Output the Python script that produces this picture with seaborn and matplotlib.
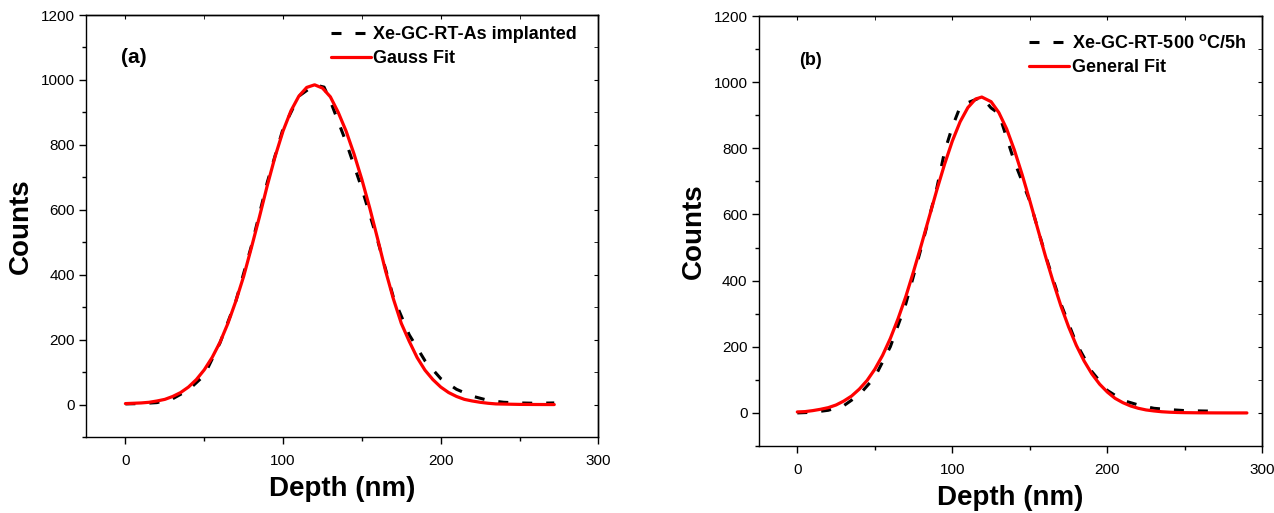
import numpy as np
import pandas as pd
import seaborn as sns
import matplotlib
matplotlib.use('Agg')
import matplotlib.pyplot as plt
from matplotlib.ticker import MultipleLocator

# --- data ---
# panel (a): measured profile (dashed) and gauss fit (solid)
depth_a_meas = [0, 10, 20, 30, 40, 50, 60, 70, 80, 90, 100, 110, 120, 126, 130,
                140, 150, 160, 170, 180, 190, 200, 210, 220, 230, 240, 250, 260, 272]
counts_a_meas = [2, 3, 6, 18, 45, 90, 190, 318, 490, 685, 850, 950, 985, 978, 935,
                 808, 665, 505, 330, 215, 135, 80, 47, 26, 13, 7, 5, 4, 5]

depth_a_fit = [0, 5, 10, 15, 20, 25, 30, 35, 40, 45, 50, 55, 60, 65, 70, 75, 80,
               85, 90, 95, 100, 105, 110, 115, 120, 125, 130, 135, 140, 145, 150,
               155, 160, 165, 170, 175, 180, 185, 190, 195, 200, 205, 210, 215,
               220, 225, 230, 235, 240, 245, 250, 260, 272]
counts_a_fit = [3, 4, 5, 7, 11, 16, 25, 37, 54, 77, 107, 145, 192, 250, 318, 395,
                485, 578, 675, 765, 843, 905, 950, 977, 985, 975, 948, 900, 842,
                772, 693, 605, 510, 412, 325, 250, 195, 145, 106, 77, 54, 37, 25,
                16, 11, 7, 4, 2, 1.5, 1, 0.5, 0.2, 0]

# panel (b): measured profile (dashed) and general fit (solid)
depth_b_meas = [0, 10, 20, 30, 40, 50, 60, 70, 80, 90, 95, 100, 105, 110, 119,
                125, 130, 140, 150, 160, 170, 180, 190, 200, 210, 220, 230, 240,
                250, 260, 272]
counts_b_meas = [0, 2, 8, 22, 55, 108, 200, 330, 500, 680, 790, 865, 925, 938,
                 955, 922, 905, 760, 640, 478, 330, 210, 125, 68, 38, 24, 14, 10,
                 7, 6, 5]

depth_b_fit = [0, 5, 10, 15, 20, 25, 30, 35, 40, 45, 50, 55, 60, 65, 70, 75, 80,
               85, 90, 95, 100, 105, 110, 115, 119, 125, 130, 135, 140, 145, 150,
               155, 160, 165, 170, 175, 180, 185, 190, 195, 200, 205, 210, 215,
               220, 225, 230, 235, 240, 245, 250, 260, 270, 280, 290]
counts_b_fit = [3, 4, 7, 11, 16, 24, 36, 51, 72, 98, 132, 174, 225, 285, 352,
                428, 508, 591, 674, 752, 822, 880, 923, 949, 955, 941, 908, 859,
                795, 721, 641, 558, 475, 397, 324, 260, 204, 157, 118, 87, 63, 44,
                31, 21, 14, 9, 6, 3.6, 2.2, 1.3, 0.8, 0.3, 0.1, 0, 0]

labels_a = ['Xe-GC-RT-As implanted', 'Gauss Fit']
labels_b = [r'Xe-GC-RT-500 $^{\mathbf{o}}$C/5h', 'General Fit']

sns.set_style('ticks')
plt.rcParams['font.family'] = ['Liberation Sans', 'DejaVu Sans']
plt.rcParams['mathtext.fontset'] = 'custom'
plt.rcParams['mathtext.rm'] = 'Liberation Sans'
plt.rcParams['mathtext.bf'] = 'Liberation Sans:bold'
plt.rcParams['text.color'] = 'black'
plt.rcParams['axes.labelcolor'] = 'black'
plt.rcParams['xtick.color'] = 'black'
plt.rcParams['ytick.color'] = 'black'
plt.rcParams['axes.edgecolor'] = 'black'
plt.rcParams['axes.linewidth'] = 1.0

fig = plt.figure(figsize=(12.74, 5.13), dpi=100)
ax_a = fig.add_axes([0.0675, 0.1481, 0.4022, 0.8226])
ax_b = fig.add_axes([0.5954, 0.1306, 0.3955, 0.8382])

dash = (0, (3.27, 4.58))


def draw_panel(ax, dm, cm, df, cf, labels, tag, tag_xy, tag_size, leg_anchor):
    sns.lineplot(x=dm, y=cm, ax=ax, color='black', linewidth=2.2,
                 linestyle=dash, label=labels[0], sort=False, zorder=2)
    sns.lineplot(x=df, y=cf, ax=ax, color='#ff0000', linewidth=2.3,
                 label=labels[1], sort=False, zorder=3)
    ax.set_xlim(-25, 300)
    ax.set_ylim(-100, 1200)
    ax.xaxis.set_major_locator(MultipleLocator(100))
    ax.xaxis.set_minor_locator(MultipleLocator(50))
    ax.yaxis.set_major_locator(MultipleLocator(200))
    ax.yaxis.set_minor_locator(MultipleLocator(100))
    ax.tick_params(which='major', direction='out', length=5, width=1,
                   labelsize=11, colors='black')
    ax.tick_params(which='minor', direction='out', length=3, width=1)
    ax.tick_params(axis='x', pad=7)
    ax.tick_params(axis='y', pad=3)
    for s in ax.spines.values():
        s.set_visible(True)
        s.set_color('black')
    # inward ticks on top and right, no labels
    top = ax.secondary_xaxis('top')
    top.xaxis.set_major_locator(MultipleLocator(100))
    top.xaxis.set_minor_locator(MultipleLocator(50))
    top.tick_params(which='both', direction='in', length=3, labeltop=False)
    right = ax.secondary_yaxis('right')
    right.yaxis.set_major_locator(MultipleLocator(200))
    right.yaxis.set_minor_locator(MultipleLocator(100))
    right.tick_params(which='both', direction='in', length=3, labelright=False)

    ax.set_xlabel('Depth (nm)', fontsize=20, fontweight='bold', labelpad=6)
    ax.set_ylabel('Counts', fontsize=20, fontweight='bold', labelpad=5)
    ax.text(tag_xy[0], tag_xy[1], tag, transform=ax.transAxes,
            fontsize=tag_size, fontweight='bold', va='center', ha='left')
    ax.legend(loc='upper left', bbox_to_anchor=leg_anchor, frameon=False,
              prop={'weight': 'bold', 'size': 13}, handlelength=2.2,
              handletextpad=0.15, labelspacing=0.4, borderpad=0,
              borderaxespad=0)


draw_panel(ax_a, depth_a_meas, counts_a_meas, depth_a_fit, counts_a_fit,
           labels_a, '(a)', (0.068, 0.90), 15, (0.478, 0.974))
draw_panel(ax_b, depth_b_meas, counts_b_meas, depth_b_fit, counts_b_fit,
           labels_b, '(b)', (0.081, 0.896), 13, (0.537, 0.958))

fig.savefig('out.png', dpi=100)
